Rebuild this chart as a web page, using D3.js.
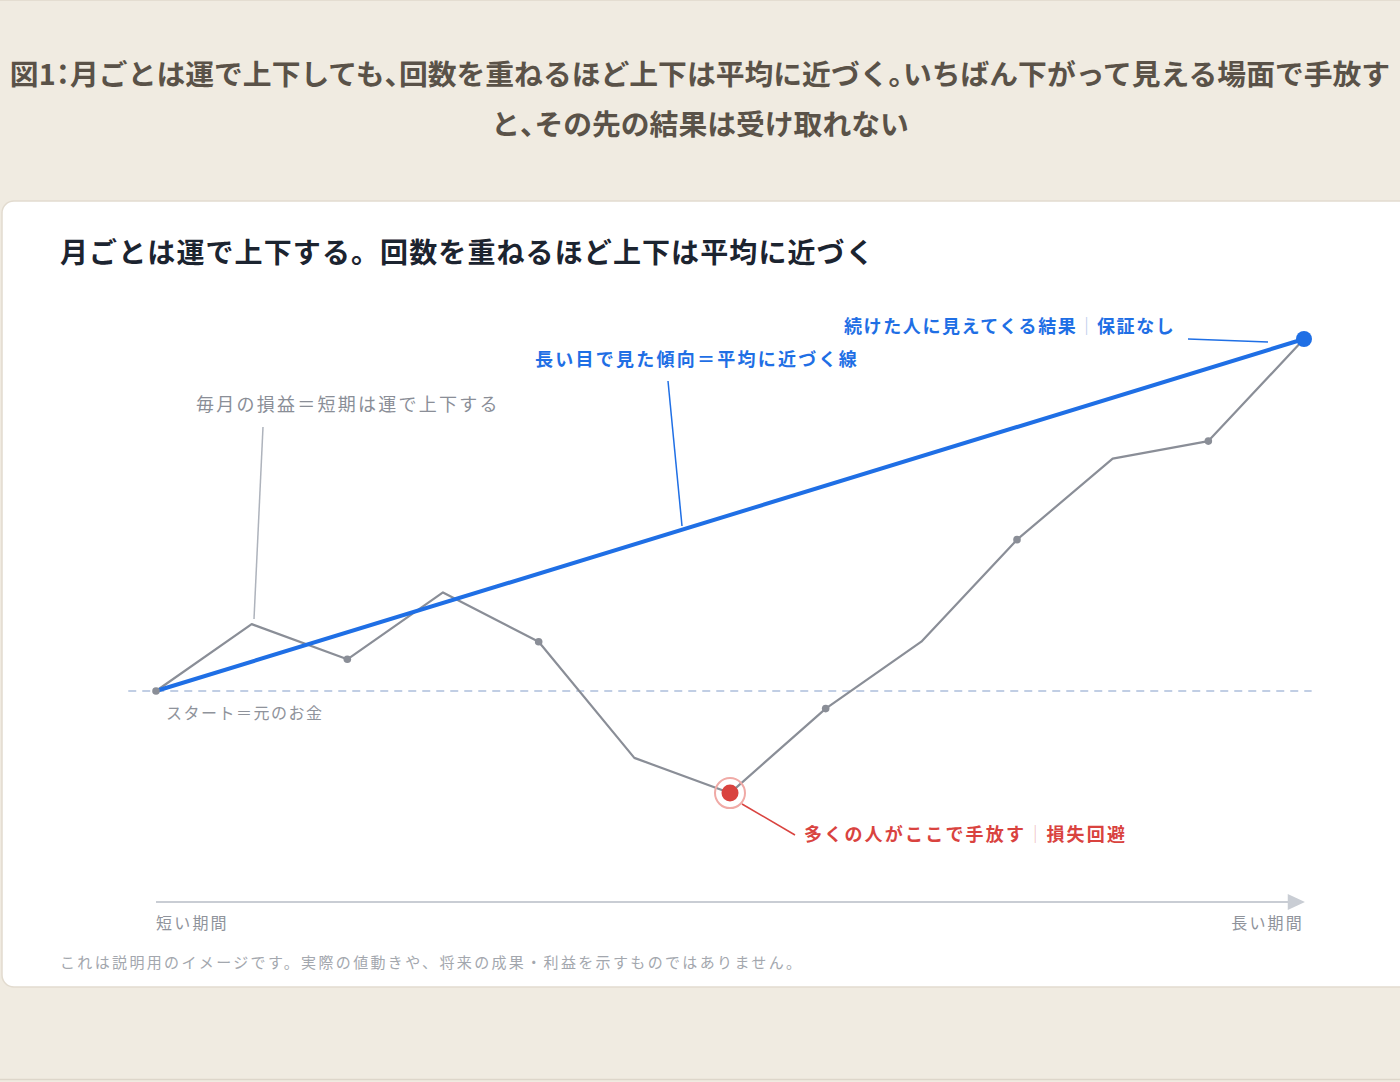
<!DOCTYPE html>
<html><head><meta charset="utf-8">
<script src="https://cdn.jsdelivr.net/npm/d3@7"></script>
<style>
html,body{margin:0;padding:0;background:#f0ebe1;}
svg{display:block;}
text{font-family:"Noto Sans CJK JP","Noto Sans",sans-serif;}
.half{font-feature-settings:"halt";}
</style></head>
<body><svg id="c" width="1400" height="1082"></svg>
<script>
// ---- data ----
const figTitle = ["図1：月ごとは運で上下しても、回数を重ねるほど上下は平均に近づく。いちばん下がって見える場面で手放す", "と、その先の結果は受け取れない"];
const cardTitle = "月ごとは運で上下する。回数を重ねるほど上下は平均に近づく";
const months = [0,1,2,3,4,5,6,7,8,9,10,11,12];
const monthly = [0,19,9,28,14,-19,-29,-5,14,43,66,71,100];   // 毎月の損益 (index, start = 0)
const markerIdx = [0,2,4,7,9,11];
const trendIdx = [0,12];
const trendVal = [0,100];
const sellIdx = 6;
const xLabels = ["短い期間","長い期間"];
const labelTrend = "長い目で見た傾向＝平均に近づく線";
const labelEndA = "続けた人に見えてくる結果", labelEndB = "保証なし";
const labelSellA = "多くの人がここで手放す", labelSellB = "損失回避";
const labelMonthly = "毎月の損益＝短期は運で上下する";
const labelStart = "スタート＝元のお金";
const footnote = "これは説明用のイメージです。実際の値動きや、将来の成果・利益を示すものではありません。";

const svg = d3.select("#c");
const blue = "#1f6fe5", red = "#d9433f", gray = "#8a8e97";

// page edges
svg.append("line").attr("x1",0).attr("x2",1400).attr("y1",1079.5).attr("y2",1079.5).attr("stroke","#ddd6ca").attr("stroke-width",1.5);
svg.append("line").attr("x1",0).attr("x2",1400).attr("y1",0.5).attr("y2",0.5).attr("stroke","#e4ddd1").attr("stroke-width",1);

// title (punctuation set half-width as in the reference)
svg.append("g").selectAll("text").data(figTitle).join("text")
  .attr("x",700).attr("y",(d,i)=>85+i*50).attr("text-anchor","middle")
  .attr("font-size",28.8).attr("font-weight",700).attr("fill","#5a5248")
  .each(function(d){
    const t = d3.select(this);
    d.split(/([：、。])/).filter(s=>s.length).forEach(s=>{
      const sp = t.append("tspan").text(s);
      if(/^[：、。]$/.test(s)) sp.attr("class","half");
    });
  });

// card
svg.append("rect").attr("x",2).attr("y",201).attr("width",1420).attr("height",786)
  .attr("rx",12).attr("fill","#fff").attr("stroke","#e2dbcf").attr("stroke-width",1.5);

svg.append("text").attr("x",60).attr("y",263).attr("font-size",28).attr("font-weight",700)
  .attr("letter-spacing",1.1).attr("fill","#1c2430").text(cardTitle);

const x = d3.scaleLinear().domain([0,12]).range([156,1304]);
const y = d3.scaleLinear().domain([0,100]).range([691,339]);

// baseline
svg.append("line").attr("x1",x(-0.29)).attr("x2",x(12.08)).attr("y1",y(0)).attr("y2",y(0))
  .attr("stroke","#adbedb").attr("stroke-width",1.5).attr("stroke-dasharray","8,6");

// monthly line
const line = d3.line().x(d=>x(d[0])).y(d=>y(d[1]));
svg.append("path").datum(months.map((m,i)=>[m,monthly[i]])).attr("d",line)
  .attr("fill","none").attr("stroke",gray).attr("stroke-width",2.2).attr("stroke-linejoin","round");

// trend
svg.append("path").datum(trendIdx.map((m,i)=>[m,trendVal[i]])).attr("d",line)
  .attr("fill","none").attr("stroke",blue).attr("stroke-width",4).attr("stroke-linecap","round");

// markers
svg.append("g").selectAll("circle").data(markerIdx).join("circle")
  .attr("cx",i=>x(months[i])).attr("cy",i=>y(monthly[i])).attr("r",3.8).attr("fill",gray);

// red sell point
svg.append("circle").attr("cx",x(sellIdx)).attr("cy",y(monthly[sellIdx])).attr("r",15)
  .attr("fill","none").attr("stroke","#f0aaa6").attr("stroke-width",2);
svg.append("circle").attr("cx",x(sellIdx)).attr("cy",y(monthly[sellIdx])).attr("r",8.5).attr("fill",red);

// blue end point
svg.append("circle").attr("cx",x(12)).attr("cy",y(trendVal[1])).attr("r",8).attr("fill",blue);

// leaders
function leader(x1,y1,x2,y2,c){svg.append("line").attr("x1",x1).attr("y1",y1).attr("x2",x2).attr("y2",y2).attr("stroke",c).attr("stroke-width",1.5);}
leader(263,427,254,619,"#aeb3bc");
leader(668,381,682,526,blue);
leader(1188,339,1268,342,blue);
leader(742,804,795,835,red);

// labels
function lab(xp,yp,size,weight,fill,ls){return svg.append("text").attr("x",xp).attr("y",yp).attr("font-size",size).attr("font-weight",weight).attr("fill",fill).attr("letter-spacing",ls);}
lab(196,411,18,400,"#8a8e97",2.25).text(labelMonthly);
lab(535,366,18,700,blue,2.25).text(labelTrend);
const t1 = lab(844,333,18,700,blue,1.6);
t1.append("tspan").text(labelEndA); t1.append("tspan").attr("fill","#b8c9ea").attr("font-weight",400).text("｜"); t1.append("tspan").text(labelEndB);
const t2 = lab(804,841,18,700,red,2.2);
t2.append("tspan").text(labelSellA); t2.append("tspan").attr("fill","#efc0bd").attr("font-weight",400).text("｜"); t2.append("tspan").text(labelSellB);
lab(166,719,16,400,"#8f939b",1.5).text(labelStart);

// x axis arrow
svg.append("line").attr("x1",x(0)).attr("x2",x(11.85)).attr("y1",902).attr("y2",902)
  .attr("stroke","#c9cdd4").attr("stroke-width",2);
svg.append("path").attr("d",`M${x(11.83)},894 L${x(12.01)},902 L${x(11.83)},910 Z`).attr("fill","#c9cdd4");
lab(x(0),929,16,400,"#8f939b",2.2).text(xLabels[0]);
lab(x(12),929,16,400,"#8f939b",2.2).attr("text-anchor","end").text(xLabels[1]);

lab(60,968,15,400,"#a3a7ae",2.35).text(footnote);
</script></body></html>
